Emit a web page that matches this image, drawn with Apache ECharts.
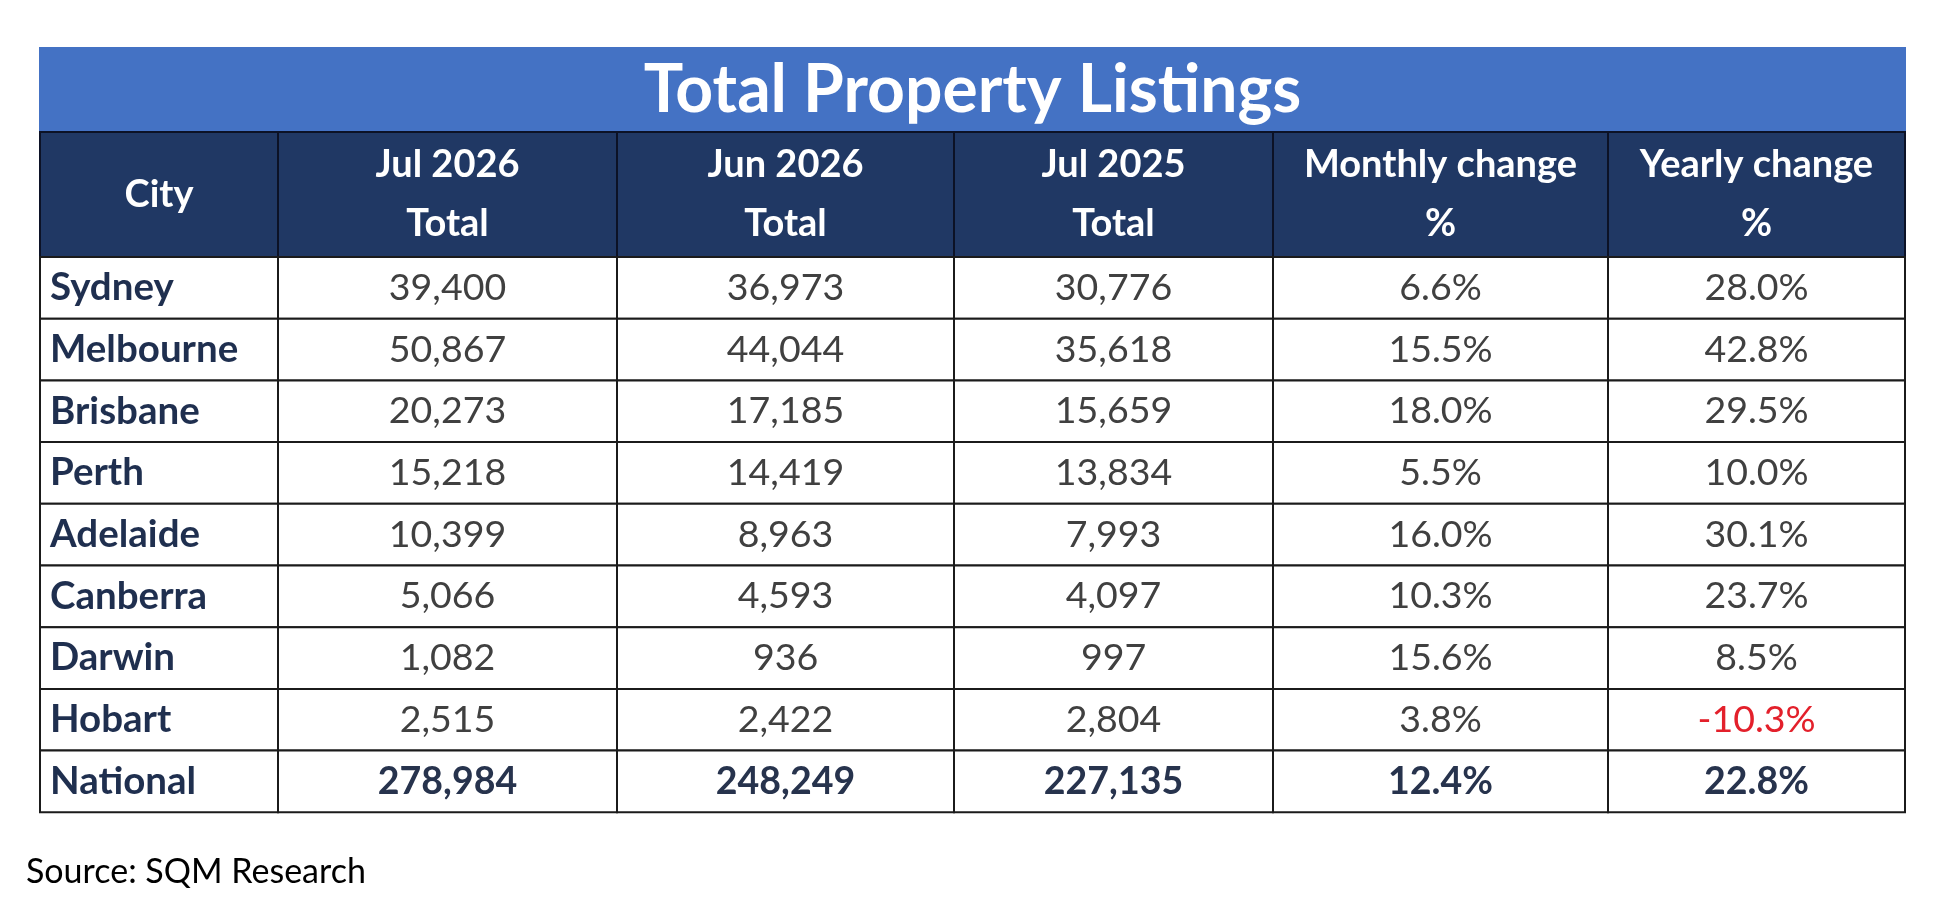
<!DOCTYPE html>
<html>
<head>
<meta charset="utf-8">
<title>Total Property Listings</title>
<script src="https://cdn.jsdelivr.net/npm/echarts@6/dist/echarts.min.js"></script>
<style>
  html, body { margin: 0; padding: 0; background: #fff; }
  #main { width: 1943px; height: 915px; }
</style>
</head>
<body>
<div id="main"></div>
<script>
var tableTitle = 'Total Property Listings';
var headers = [
  ['City'],
  ['Jul 2026', 'Total'],
  ['Jun 2026', 'Total'],
  ['Jul 2025', 'Total'],
  ['Monthly change', '%'],
  ['Yearly change', '%']
];
var cities = ['Sydney', 'Melbourne', 'Brisbane', 'Perth', 'Adelaide', 'Canberra', 'Darwin', 'Hobart', 'National'];
var jul2026 = [39400, 50867, 20273, 15218, 10399, 5066, 1082, 2515, 278984];
var jun2026 = [36973, 44044, 17185, 14419, 8963, 4593, 936, 2422, 248249];
var jul2025 = [30776, 35618, 15659, 13834, 7993, 4097, 997, 2804, 227135];
var monthlyChange = [6.6, 15.5, 18.0, 5.5, 16.0, 10.3, 15.6, 3.8, 12.4];
var yearlyChange = [28.0, 42.8, 29.5, 10.0, 30.1, 23.7, 8.5, -10.3, 22.8];
var sourceText = 'Source: SQM Research';

// table layout (grid units), not data
var colEdges = [0, 238, 577, 914, 1233, 1568, 1865];
var titleH = 84, headH = 125, rowH = 61.7;
var FONT = 'Lato, "Open Sans", sans-serif';

function rowTop(r) {
  // r = -2 title band, -1 header, 0.. data rows
  if (r === -2) return 0;
  if (r === -1) return titleH;
  return titleH + headH + r * rowH;
}
function rowBottom(r) {
  if (r === -2) return titleH;
  if (r === -1) return titleH + headH;
  return rowTop(r) + rowH;
}

function fmtNum(v) { return v.toLocaleString('en-US'); }
function fmtPct(v) { return v.toFixed(1) + '%'; }

// build the list of cells
var cells = [];
cells.push({ c0: 0, c1: 6, r: -2, kind: 'title', lines: [tableTitle] });
headers.forEach(function (h, i) {
  cells.push({ c0: i, c1: i + 1, r: -1, kind: 'head', lines: h });
});
var lastRow = cities.length - 1;
cities.forEach(function (city, r) {
  var total = r === lastRow;
  var vals = [fmtNum(jul2026[r]), fmtNum(jun2026[r]), fmtNum(jul2025[r]),
              fmtPct(monthlyChange[r]), fmtPct(yearlyChange[r])];
  cells.push({ c0: 0, c1: 1, r: r, kind: 'city', lines: [city] });
  vals.forEach(function (v, k) {
    var kind = total ? 'total' : 'value';
    if (k === 4 && yearlyChange[r] < 0) kind = 'neg';
    cells.push({ c0: k + 1, c1: k + 2, r: r, kind: kind, lines: [v] });
  });
});

var chart = echarts.init(document.getElementById('main'));

function renderCell(params, api) {
  var cell = cells[params.dataIndex];
  var p0 = api.coord([colEdges[cell.c0], rowTop(cell.r)]);
  var p1 = api.coord([colEdges[cell.c1], rowBottom(cell.r)]);
  var x0 = p0[0], y0 = p0[1], x1 = p1[0], y1 = p1[1];
  var cx = (x0 + x1) / 2, cy = (y0 + y1) / 2;
  var children = [];

  var fill = '#ffffff', stroke = '#1b1b1b';
  if (cell.kind === 'title') { fill = '#4472c4'; stroke = '#4472c4'; }
  if (cell.kind === 'head') { fill = '#203864'; stroke = '#0c1226'; }
  children.push({
    type: 'rect',
    shape: { x: x0, y: y0, width: x1 - x0, height: y1 - y0 },
    style: { fill: fill, stroke: stroke, lineWidth: 2 }
  });

  var color = '#404040', size = 37.5, weight = 'normal', align = 'center', tx = cx;
  if (cell.kind === 'title') { color = '#ffffff'; size = 66; weight = 'bold'; cy += 1; }
  if (cell.kind === 'head') { color = '#ffffff'; size = 38; weight = 'bold'; }
  if (cell.kind === 'city') { color = '#1f2f4f'; size = 38.5; weight = 'bold'; align = 'left'; tx = x0 + 10; }
  if (cell.kind === 'total') { color = '#27334d'; weight = 'bold'; }
  if (cell.kind === 'neg') { color = '#e3202b'; }

  var n = cell.lines.length, gap = 59;
  cell.lines.forEach(function (line, i) {
    children.push({
      type: 'text',
      style: {
        text: line,
        x: tx,
        y: cy + (i - (n - 1) / 2) * gap,
        align: align,
        verticalAlign: 'middle',
        fill: color,
        fontSize: size,
        fontWeight: weight,
        fontFamily: FONT
      }
    });
  });
  return { type: 'group', children: children };
}

var option = {
  animation: false,
  title: {
    text: sourceText,
    left: 21,
    top: 850,
    textStyle: { fontFamily: FONT, fontSize: 34, fontWeight: 'normal', color: '#000' }
  },
  grid: { left: 40, top: 48, width: 1865, height: 764 },
  xAxis: { type: 'value', min: 0, max: 1865, show: false },
  yAxis: { type: 'value', min: 0, max: 764, inverse: true, show: false },
  series: [{
    type: 'custom',
    renderItem: renderCell,
    data: cells.map(function (c) { return [colEdges[c.c0], rowTop(c.r)]; }),
    clip: false
  }]
};

chart.setOption(option);
</script>
</body>
</html>
